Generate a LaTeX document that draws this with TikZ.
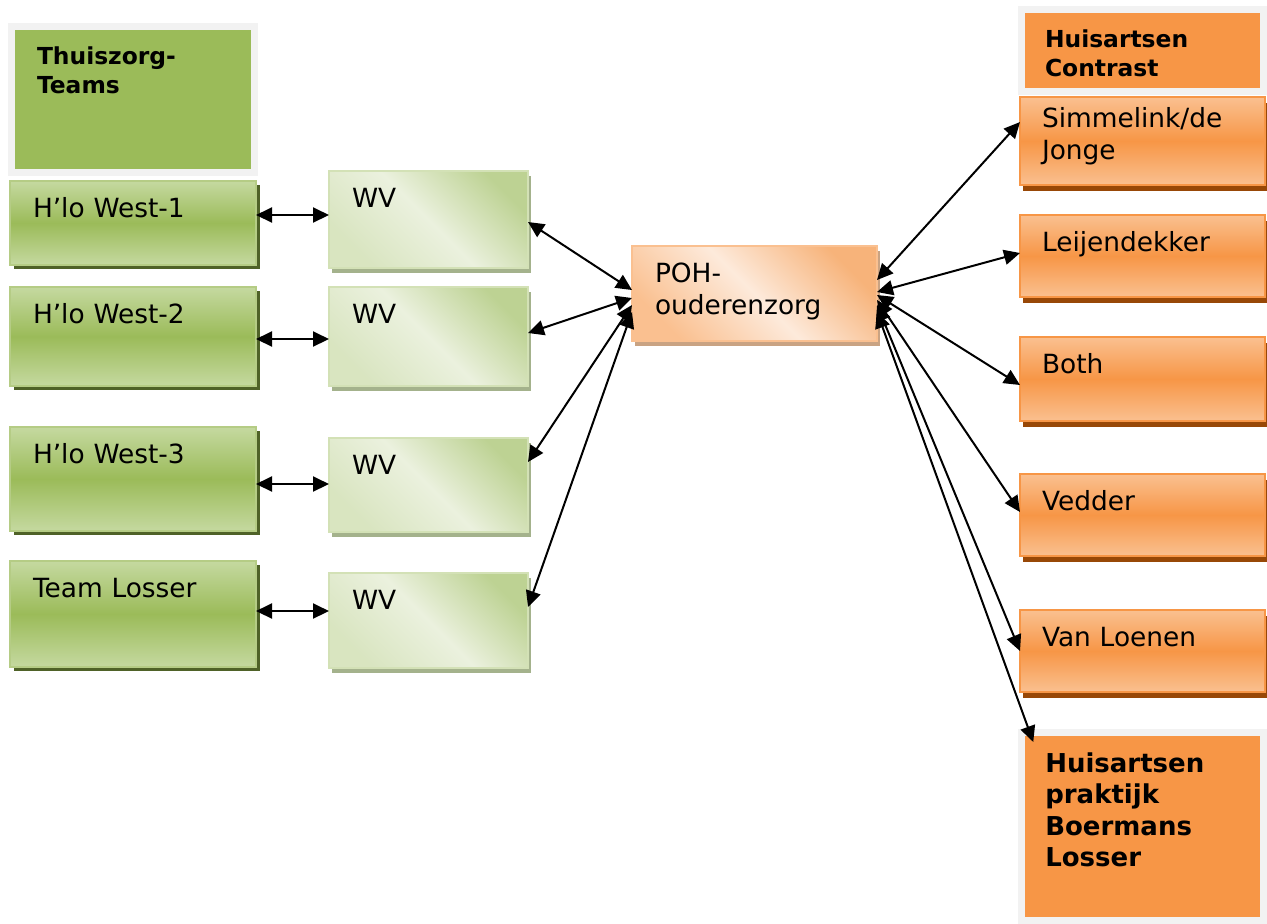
\documentclass[tikz,border=0pt]{standalone}
\usepackage{fontspec}
\setmainfont{DejaVu Sans}
\usetikzlibrary{shapes,arrows.meta,positioning,shadows,calc}

\definecolor{greenmid}{HTML}{9BBB59}
\definecolor{greenlight}{HTML}{C5D9A0}
\definecolor{greenline}{HTML}{B5CC85}
\definecolor{greenshadow}{HTML}{4F6228}
\definecolor{wvlight}{HTML}{EBF1DE}
\definecolor{wvdark}{HTML}{BDD293}
\definecolor{wvline}{HTML}{D3E1B6}
\definecolor{wvshadow}{HTML}{A4B28C}
\definecolor{orangemid}{HTML}{F79646}
\definecolor{orangelight}{HTML}{FAC090}
\definecolor{orangeshadow}{HTML}{984807}
\definecolor{pohlight}{HTML}{FDEADB}
\definecolor{pohdark}{HTML}{F7B37A}
\definecolor{pohline}{HTML}{FAC090}
\definecolor{pohshadow}{HTML}{C9A383}
\definecolor{framegrey}{HTML}{F2F2F2}

\begin{document}
\begin{tikzpicture}[
    x=0.5pt, y=-0.5pt,
    every node/.style={outer sep=0pt, inner ysep=0pt, inner xsep=11.5pt, align=left, text height=18pt, font=\fontsize{13.2}{16}\selectfont},
    boxheight/.style={text depth=#1-18pt},
    header/.style={rectangle, draw=framegrey, line width=3.5pt, text height=19pt, font=\fontsize{11.7}{14.5}\selectfont\bfseries},
    team/.style={rectangle, draw=greenline, line width=0.8pt, text width=100pt, top color=greenlight, bottom color=greenlight, middle color=greenmid, drop shadow={shadow xshift=2pt, shadow yshift=-2pt, fill=greenshadow, opacity=1}},
    wv/.style={rectangle, draw=wvline, line width=0.8pt, text width=76.5pt, top color=wvdark, bottom color=wvlight!60!wvdark, middle color=wvlight, shading angle=-45, drop shadow={shadow xshift=1.5pt, shadow yshift=-2.5pt, fill=wvshadow, opacity=1}},
    poh/.style={rectangle, draw=pohline, line width=0.8pt, text width=99.5pt, top color=pohdark, bottom color=orangelight, middle color=pohlight, shading angle=-45, drop shadow={shadow xshift=1.5pt, shadow yshift=-2.5pt, fill=pohshadow, opacity=1}},
    practice/.style={rectangle, draw=orangemid, line width=0.8pt, inner xsep=11pt, text width=100.5pt, top color=orangelight, bottom color=orangelight, middle color=orangemid, drop shadow={shadow xshift=1.5pt, shadow yshift=-3pt, fill=orangeshadow, opacity=1}},
    doublearrow/.style={<->, line width=1pt, >={Triangle[length=8pt,width=7.5pt]}}
]
\useasboundingbox (0,0) rectangle (1267,923);

% Thuiszorg teams
\node[header, fill=greenmid, inner xsep=12.75pt, text width=96pt, text depth=54pt] (thuis) at (133,99) {Thuiszorg-\\Teams};
\node[team, boxheight=42pt, below=4.5pt of thuis] (west1) {H’lo West-1};
\node[team, boxheight=49.5pt, below=11pt of west1] (west2) {H’lo West-2};
\node[team, boxheight=52pt, below=20.5pt of west2] (west3) {H’lo West-3};
\node[team, boxheight=53pt, below=15pt of west3] (losser) {Team Losser};

% WV
\node[wv, boxheight=48.5pt, right=36.5pt of west1, yshift=1.75pt] (wv1) {WV};
\node[wv, boxheight=49.5pt, right=36.5pt of west2] (wv2) {WV};
\node[wv, boxheight=47pt, right=36.5pt of west3, yshift=-3pt] (wv3) {WV};
\node[wv, boxheight=47.5pt, right=36.5pt of losser, yshift=-3.25pt] (wv4) {WV};

% POH
\node[poh, boxheight=47.5pt] (poh) at (754.5,293.5) {POH-\\ouderenzorg};

% Huisartsen
\node[header, fill=orangemid, inner xsep=11.75pt, text width=97.5pt, text depth=22.25pt] (contrast) at (1142.5,50.25) {Huisartsen\\Contrast};
\node[practice, text height=15pt, text depth=29pt, below=2.75pt of contrast] (simm) {Simmelink/de\\Jonge};
\node[practice, boxheight=41pt, below=15pt of simm] (leij) {Leijendekker};
\node[practice, boxheight=42pt, below=20pt of leij] (both) {Both};
\node[practice, boxheight=41pt, below=26.5pt of both] (vedder) {Vedder};
\node[practice, boxheight=41pt, below=27pt of vedder] (loenen) {Van Loenen};
\node[header, fill=orangemid, inner xsep=12pt, text width=97.25pt, text height=20pt, text depth=74.25pt, font=\fontsize{13}{15.75}\selectfont\bfseries, below=20pt of loenen] (boer) {Huisartsen\\praktijk\\Boermans\\Losser};

% Arrows - teams to WV
\draw[doublearrow] ([yshift=4pt]west1.east) -- ([yshift=4pt]west1.east -| wv1.west);
\draw[doublearrow] ([yshift=-1.25pt]west2.east) -- ([yshift=-1.25pt]west2.east -| wv2.west);
\draw[doublearrow] ([yshift=-2.5pt]west3.east) -- ([yshift=-2.5pt]west3.east -| wv3.west);
\draw[doublearrow] ([yshift=1.5pt]losser.east) -- ([yshift=1.5pt]losser.east -| wv4.west);

% Arrows - WV to POH
\draw[doublearrow] ([yshift=-1.25pt]wv1.east) -- ([yshift=1.75pt]poh.west);
\draw[doublearrow] ([yshift=1.75pt]wv2.east) -- ([yshift=-2.25pt]poh.west);
\draw[doublearrow] ([yshift=11.5pt]wv3.east) -- ([yshift=-5.75pt]poh.west);
\draw[doublearrow] ([yshift=6.75pt]wv4.east) -- ([yshift=-9.25pt]poh.west);

% Arrows - POH to huisartsen
\draw[doublearrow] ([yshift=6.75pt]poh.east) -- ([yshift=9.5pt]simm.west);
\draw[doublearrow] ([yshift=0.75pt]poh.east) -- ([yshift=1.5pt]leij.west);
\draw[doublearrow] ([yshift=-0.75pt]poh.east) -- ([yshift=-3pt]both.west);
\draw[doublearrow] ([yshift=-3.25pt]poh.east) -- ([yshift=1.5pt]vedder.west);
\draw[doublearrow] ([yshift=-5.75pt]poh.east) -- (loenen.west);
\draw[doublearrow] ([yshift=-9.25pt]poh.east) -- ([shift={(6pt,-5pt)}]boer.north west);

\end{tikzpicture}
\end{document}
